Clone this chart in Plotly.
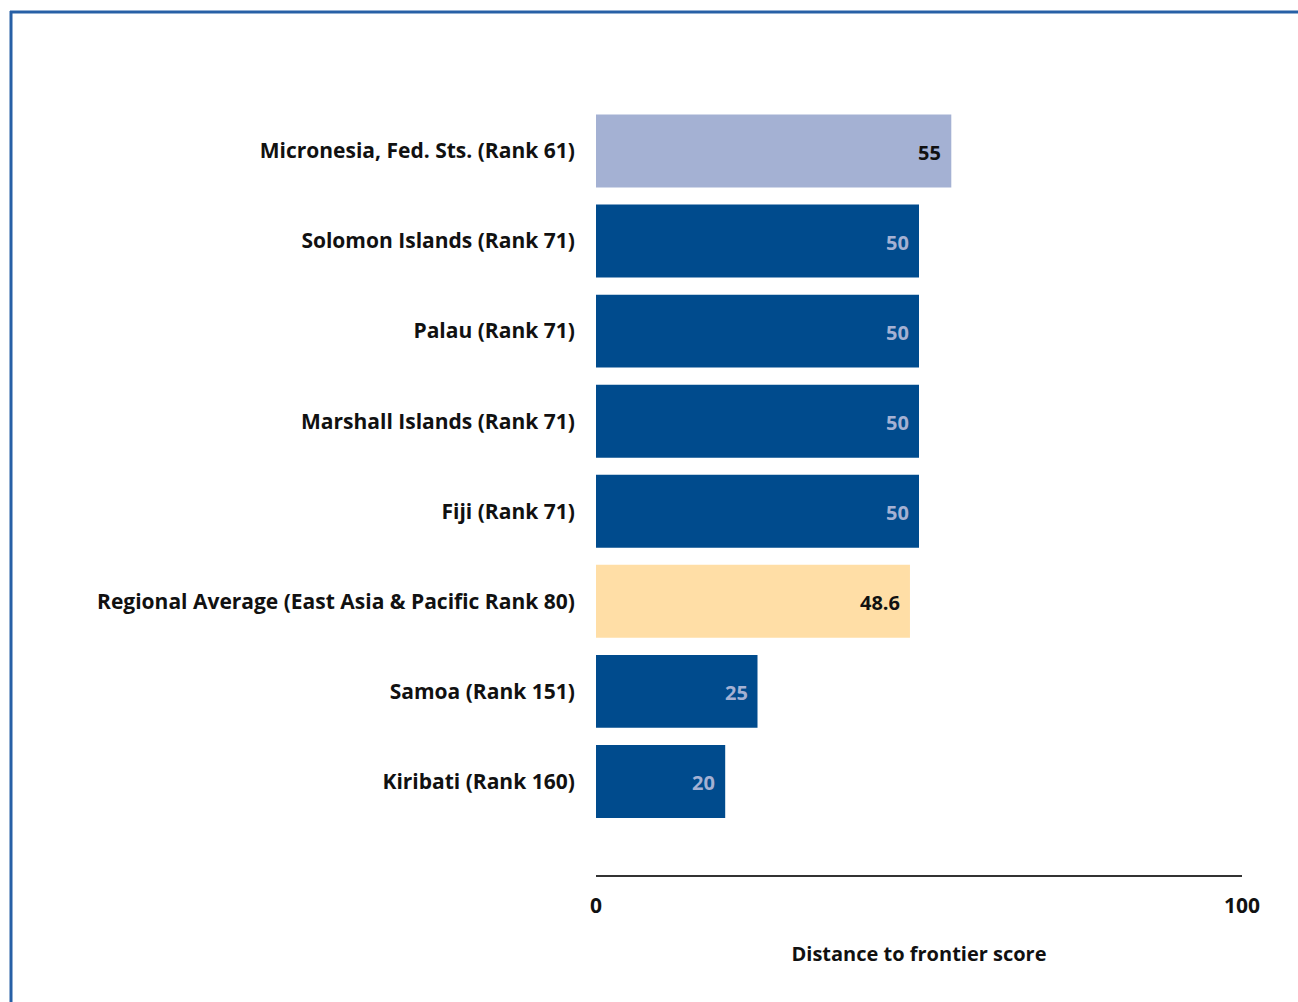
import plotly.graph_objects as go

# Distance to frontier scores, economies ordered top to bottom
labels = [
    "Micronesia, Fed. Sts. (Rank 61)",
    "Solomon Islands (Rank 71)",
    "Palau (Rank 71)",
    "Marshall Islands (Rank 71)",
    "Fiji (Rank 71)",
    "Regional Average (East Asia & Pacific Rank 80)",
    "Samoa (Rank 151)",
    "Kiribati (Rank 160)",
]
scores = [55, 50, 50, 50, 50, 48.6, 25, 20]
score_text = ["55", "50", "50", "50", "50", "48.6", "25", "20"]

BLUE = "#004B8D"
LIGHT = "#A4B1D3"
GOLD = "#FFDEA6"
bar_colors = [LIGHT, BLUE, BLUE, BLUE, BLUE, GOLD, BLUE, BLUE]
text_colors = ["#111111", LIGHT, LIGHT, LIGHT, LIGHT, "#111111", LIGHT, LIGHT]

W, H = 1298, 1002
ML, MR, MT, MB = 596, 56, 106, 127
FONT = "Open Sans"
FS = 21

fig = go.Figure()
fig.add_trace(go.Bar(
    x=scores,
    y=labels,
    orientation="h",
    marker=dict(color=bar_colors, line=dict(width=0)),
    width=0.81,
    hoverinfo="x+y",
))

for lab, val, txt, col in zip(labels, scores, score_text, text_colors):
    fig.add_annotation(
        x=val, y=lab, text=txt, showarrow=False,
        xanchor="right", xshift=-8, yshift=-1,
        font=dict(family=FONT, size=20, color=col, weight="bold"),
    )

# Frame lines along the top and left edges of the figure
pw = W - ML - MR
ph = H - MT - MB
def px_x(p):
    return (p - ML) / pw
def px_y(p):
    return 1 - (p - MT) / ph

frame = "#2760A6"
fig.add_shape(type="line", xref="paper", yref="paper",
              x0=px_x(10), x1=px_x(W + 5), y0=px_y(12), y1=px_y(12),
              line=dict(color=frame, width=3))
fig.add_shape(type="line", xref="paper", yref="paper",
              x0=px_x(11), x1=px_x(11), y0=px_y(11), y1=px_y(H + 5),
              line=dict(color=frame, width=3))

fig.update_layout(
    width=W, height=H,
    margin=dict(l=ML, r=MR, t=MT, b=MB, pad=0),
    paper_bgcolor="white", plot_bgcolor="white",
    showlegend=False,
    font=dict(family=FONT, size=FS, color="#111111", weight="bold"),
    xaxis=dict(
        range=[0, 100], tickvals=[0, 100], ticktext=["0", "100"],
        showgrid=False, zeroline=False,
        showline=True, linecolor="#333333", linewidth=2,
        ticks="outside", ticklen=11, tickcolor="rgba(0,0,0,0)",
        tickfont=dict(family=FONT, size=FS, color="#111111", weight="bold"),
        title=dict(text="Distance to frontier score", standoff=29,
                   font=dict(family=FONT, size=20, color="#111111", weight="bold")),
        fixedrange=True,
    ),
    yaxis=dict(
        type="category", categoryorder="array", categoryarray=labels,
        range=[8.039, -0.5],
        showgrid=False, zeroline=False, showline=False,
        ticks="outside", ticklen=16, tickcolor="rgba(0,0,0,0)",
        tickfont=dict(family=FONT, size=FS, color="#111111", weight="bold"),
        fixedrange=True,
    ),
)

fig.write_html("out.html")
